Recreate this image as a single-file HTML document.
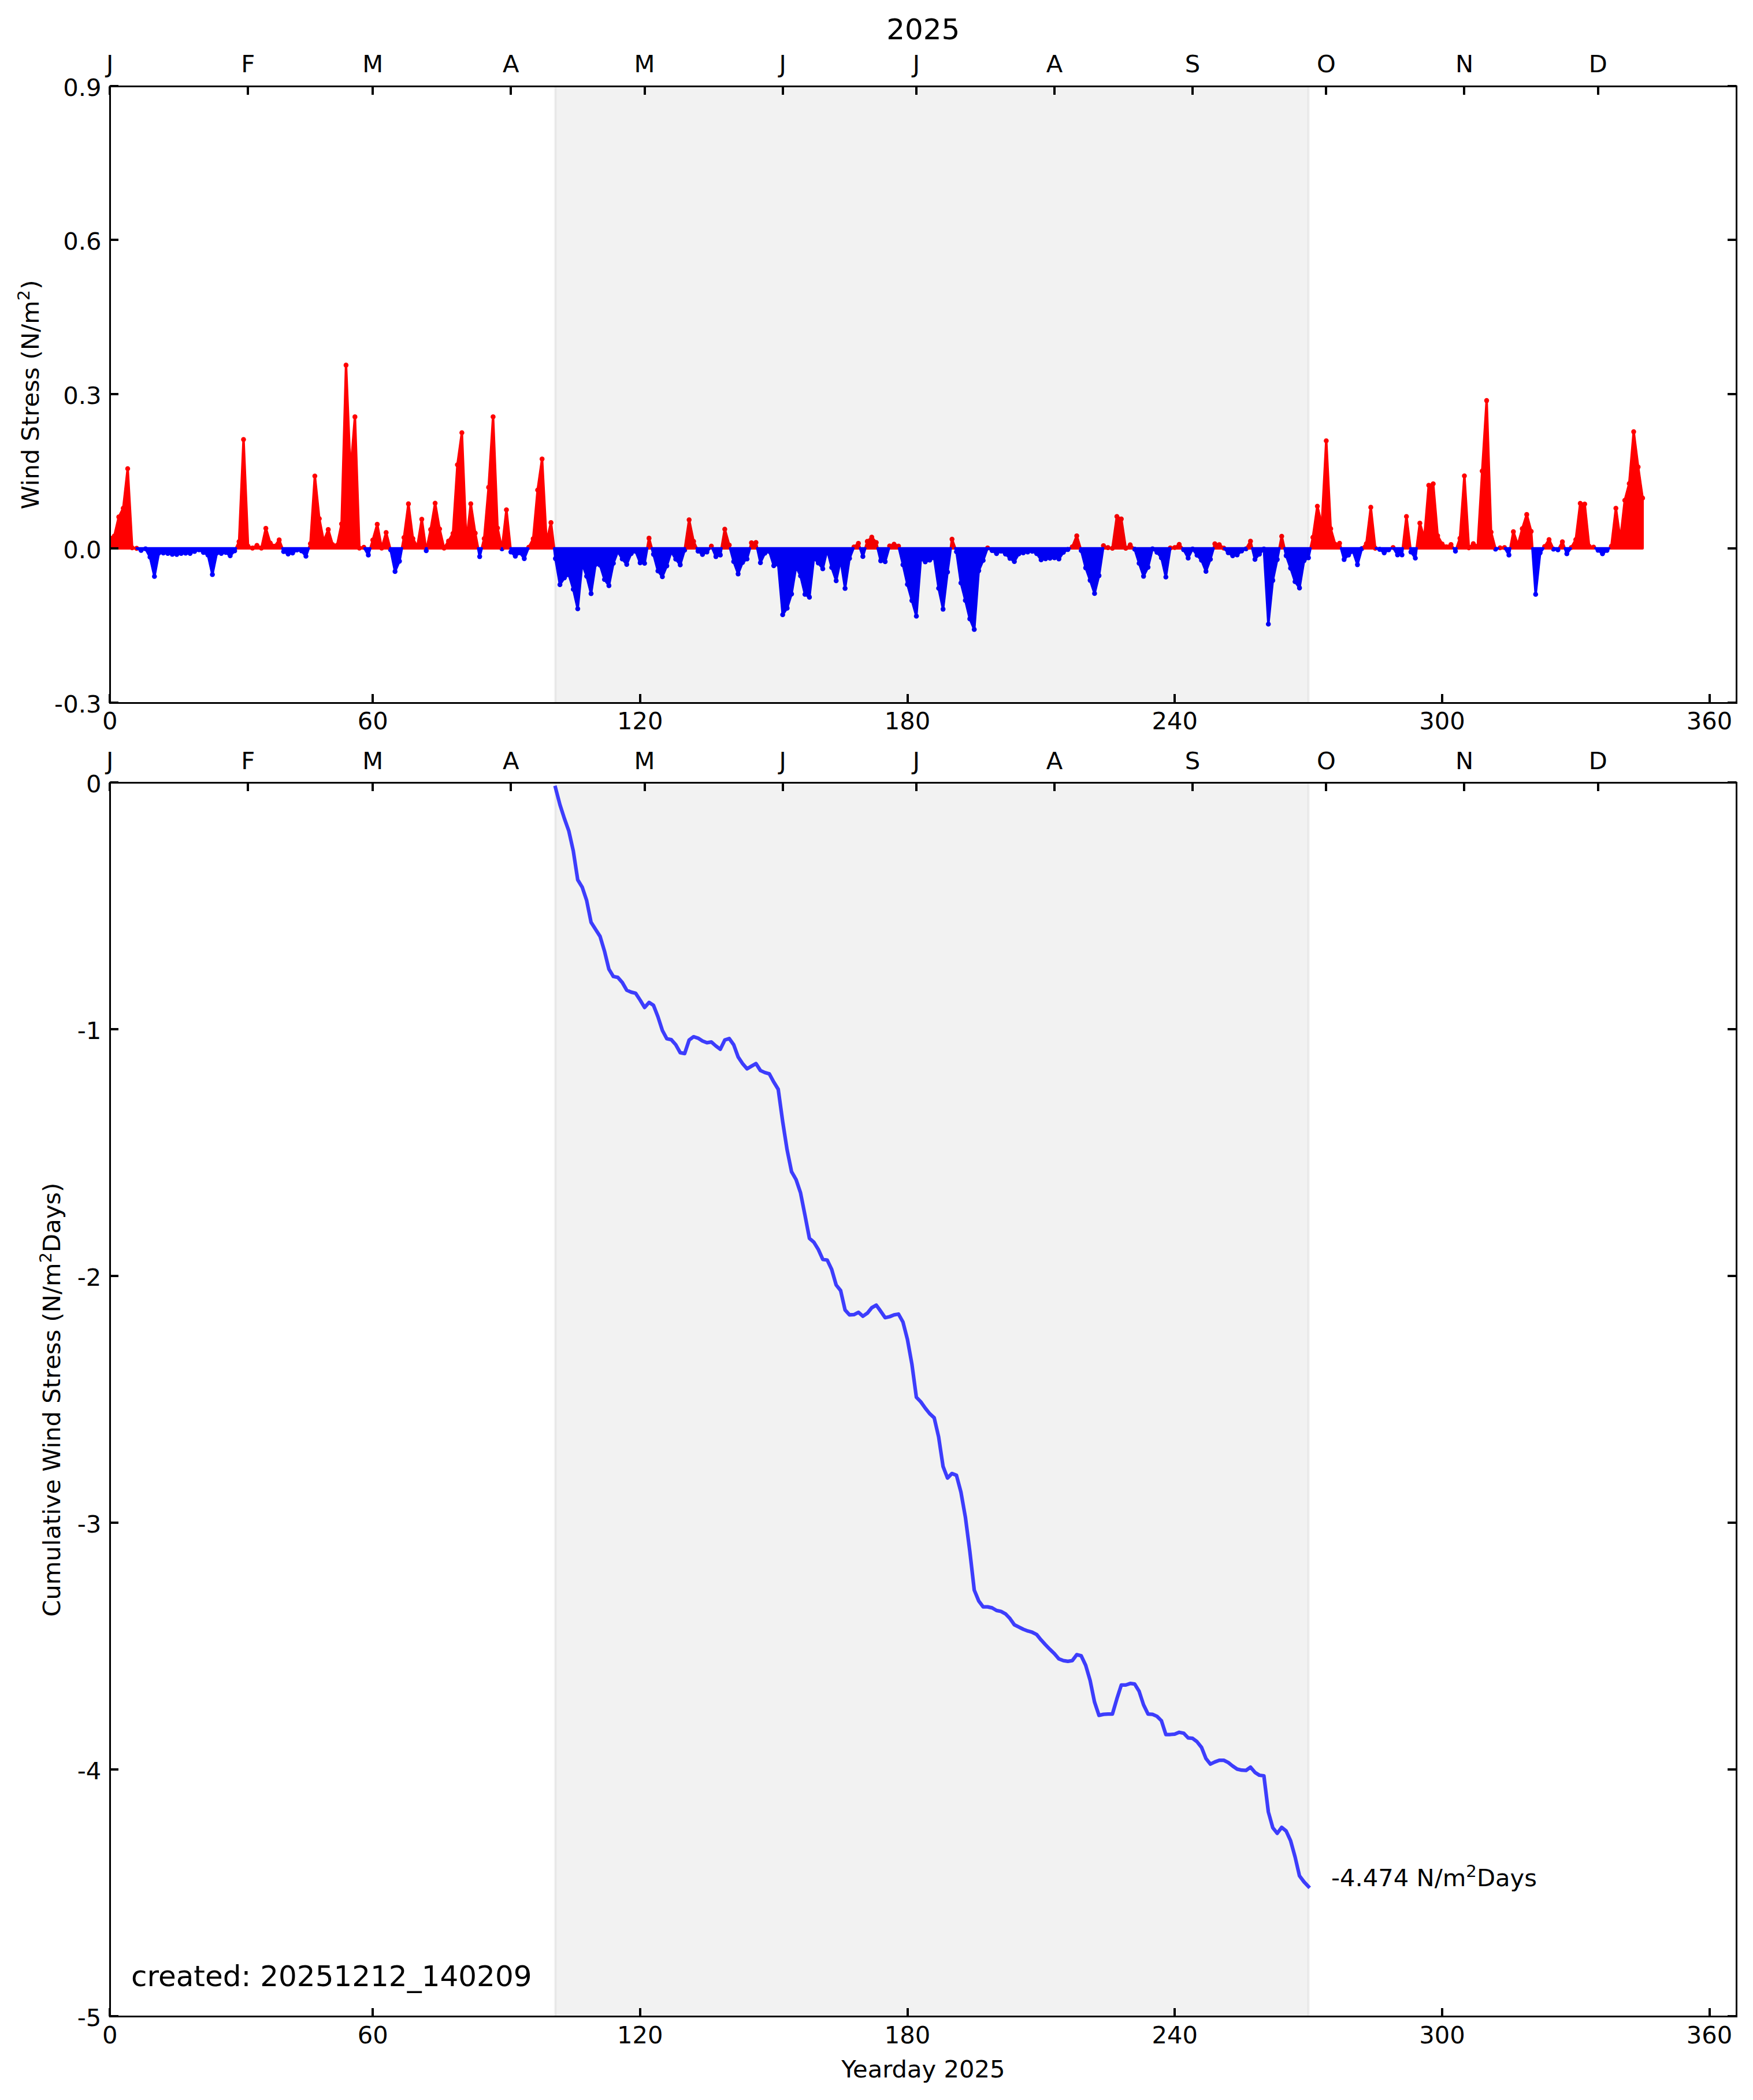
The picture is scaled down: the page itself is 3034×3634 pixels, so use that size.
<!DOCTYPE html>
<html><head><meta charset="utf-8"><title>Wind Stress 2025</title>
<style>html,body{margin:0;padding:0;background:#fff}svg{display:block}</style></head>
<body>
<svg width="3034" height="3634" viewBox="0 0 3034 3634" font-family="'DejaVu Sans', 'Liberation Sans', sans-serif" fill="#000">
<rect width="3034" height="3634" fill="#fff"/>
<clipPath id="c1"><rect x="190.2" y="149.4" width="2815.30" height="1066.90"/></clipPath>
<g clip-path="url(#c1)">
<g fill="#0000ff"><circle cx="244.2" cy="952.4" r="4.28"/><circle cx="251.9" cy="949.7" r="4.28"/><circle cx="259.6" cy="964.0" r="4.28"/><circle cx="267.3" cy="997.5" r="4.28"/><circle cx="275.0" cy="956.9" r="4.28"/><circle cx="282.7" cy="956.9" r="4.28"/><circle cx="290.4" cy="957.7" r="4.28"/><circle cx="298.2" cy="959.1" r="4.28"/><circle cx="305.9" cy="959.5" r="4.28"/><circle cx="313.6" cy="957.7" r="4.28"/><circle cx="321.3" cy="957.3" r="4.28"/><circle cx="329.0" cy="957.7" r="4.28"/><circle cx="336.7" cy="954.2" r="4.28"/><circle cx="344.4" cy="951.5" r="4.28"/><circle cx="352.1" cy="956.0" r="4.28"/><circle cx="359.9" cy="960.4" r="4.28"/><circle cx="367.6" cy="994.2" r="4.28"/><circle cx="375.3" cy="956.9" r="4.28"/><circle cx="383.0" cy="957.7" r="4.28"/><circle cx="390.7" cy="956.0" r="4.28"/><circle cx="398.4" cy="961.8" r="4.28"/><circle cx="406.1" cy="953.3" r="4.28"/><circle cx="490.9" cy="954.5" r="4.28"/><circle cx="498.7" cy="958.6" r="4.28"/><circle cx="506.4" cy="956.9" r="4.28"/><circle cx="514.1" cy="951.8" r="4.28"/><circle cx="521.8" cy="953.3" r="4.28"/><circle cx="529.5" cy="962.5" r="4.28"/><circle cx="637.5" cy="960.4" r="4.28"/><circle cx="676.0" cy="951.5" r="4.28"/><circle cx="683.7" cy="988.9" r="4.28"/><circle cx="691.4" cy="971.1" r="4.28"/><circle cx="737.7" cy="952.9" r="4.28"/><circle cx="830.2" cy="963.1" r="4.28"/><circle cx="868.8" cy="949.7" r="4.28"/><circle cx="884.2" cy="955.1" r="4.28"/><circle cx="891.9" cy="962.5" r="4.28"/><circle cx="899.6" cy="956.4" r="4.28"/><circle cx="907.4" cy="966.6" r="4.28"/><circle cx="961.3" cy="966.6" r="4.28"/><circle cx="969.1" cy="1011.7" r="4.28"/><circle cx="976.8" cy="1000.0" r="4.28"/><circle cx="984.5" cy="994.4" r="4.28"/><circle cx="992.2" cy="1019.8" r="4.28"/><circle cx="999.9" cy="1053.5" r="4.28"/><circle cx="1007.6" cy="975.0" r="4.28"/><circle cx="1015.3" cy="997.1" r="4.28"/><circle cx="1023.0" cy="1027.3" r="4.28"/><circle cx="1030.7" cy="976.6" r="4.28"/><circle cx="1038.5" cy="977.9" r="4.28"/><circle cx="1046.2" cy="1002.7" r="4.28"/><circle cx="1053.9" cy="1013.4" r="4.28"/><circle cx="1061.6" cy="974.8" r="4.28"/><circle cx="1069.3" cy="954.4" r="4.28"/><circle cx="1077.0" cy="967.2" r="4.28"/><circle cx="1084.7" cy="976.6" r="4.28"/><circle cx="1092.4" cy="958.0" r="4.28"/><circle cx="1100.1" cy="953.9" r="4.28"/><circle cx="1107.9" cy="973.9" r="4.28"/><circle cx="1115.6" cy="974.8" r="4.28"/><circle cx="1131.0" cy="959.1" r="4.28"/><circle cx="1138.7" cy="988.0" r="4.28"/><circle cx="1146.4" cy="998.0" r="4.28"/><circle cx="1154.1" cy="979.1" r="4.28"/><circle cx="1161.8" cy="954.9" r="4.28"/><circle cx="1169.5" cy="967.5" r="4.28"/><circle cx="1177.3" cy="977.4" r="4.28"/><circle cx="1185.0" cy="952.0" r="4.28"/><circle cx="1208.1" cy="953.6" r="4.28"/><circle cx="1215.8" cy="959.4" r="4.28"/><circle cx="1223.5" cy="955.1" r="4.28"/><circle cx="1239.0" cy="963.1" r="4.28"/><circle cx="1246.7" cy="960.4" r="4.28"/><circle cx="1269.8" cy="971.8" r="4.28"/><circle cx="1277.5" cy="993.1" r="4.28"/><circle cx="1285.2" cy="973.3" r="4.28"/><circle cx="1292.9" cy="967.3" r="4.28"/><circle cx="1316.1" cy="973.7" r="4.28"/><circle cx="1323.8" cy="957.3" r="4.28"/><circle cx="1331.5" cy="954.1" r="4.28"/><circle cx="1339.2" cy="978.9" r="4.28"/><circle cx="1346.9" cy="976.6" r="4.28"/><circle cx="1354.6" cy="1063.8" r="4.28"/><circle cx="1362.3" cy="1052.4" r="4.28"/><circle cx="1370.0" cy="1027.9" r="4.28"/><circle cx="1377.8" cy="980.6" r="4.28"/><circle cx="1385.5" cy="996.5" r="4.28"/><circle cx="1393.2" cy="1028.5" r="4.28"/><circle cx="1400.9" cy="1033.4" r="4.28"/><circle cx="1408.6" cy="965.6" r="4.28"/><circle cx="1416.3" cy="974.3" r="4.28"/><circle cx="1424.0" cy="984.2" r="4.28"/><circle cx="1431.7" cy="951.4" r="4.28"/><circle cx="1439.4" cy="982.0" r="4.28"/><circle cx="1447.2" cy="1004.9" r="4.28"/><circle cx="1454.9" cy="969.0" r="4.28"/><circle cx="1462.6" cy="1018.2" r="4.28"/><circle cx="1470.3" cy="966.2" r="4.28"/><circle cx="1493.4" cy="962.9" r="4.28"/><circle cx="1524.3" cy="970.4" r="4.28"/><circle cx="1532.0" cy="971.9" r="4.28"/><circle cx="1562.8" cy="977.2" r="4.28"/><circle cx="1570.5" cy="1011.2" r="4.28"/><circle cx="1578.3" cy="1039.2" r="4.28"/><circle cx="1586.0" cy="1066.3" r="4.28"/><circle cx="1593.7" cy="967.4" r="4.28"/><circle cx="1601.4" cy="972.1" r="4.28"/><circle cx="1609.1" cy="969.3" r="4.28"/><circle cx="1616.8" cy="965.3" r="4.28"/><circle cx="1624.5" cy="1018.0" r="4.28"/><circle cx="1632.2" cy="1054.1" r="4.28"/><circle cx="1639.9" cy="989.9" r="4.28"/><circle cx="1655.4" cy="954.8" r="4.28"/><circle cx="1663.1" cy="1008.7" r="4.28"/><circle cx="1670.8" cy="1038.9" r="4.28"/><circle cx="1678.5" cy="1070.9" r="4.28"/><circle cx="1686.2" cy="1089.3" r="4.28"/><circle cx="1693.9" cy="987.6" r="4.28"/><circle cx="1701.6" cy="969.7" r="4.28"/><circle cx="1717.1" cy="952.7" r="4.28"/><circle cx="1724.8" cy="958.0" r="4.28"/><circle cx="1732.5" cy="953.6" r="4.28"/><circle cx="1740.2" cy="958.8" r="4.28"/><circle cx="1747.9" cy="966.1" r="4.28"/><circle cx="1755.6" cy="971.8" r="4.28"/><circle cx="1763.3" cy="958.5" r="4.28"/><circle cx="1771.0" cy="956.8" r="4.28"/><circle cx="1778.7" cy="955.2" r="4.28"/><circle cx="1786.5" cy="953.9" r="4.28"/><circle cx="1794.2" cy="957.9" r="4.28"/><circle cx="1801.9" cy="968.8" r="4.28"/><circle cx="1809.6" cy="966.9" r="4.28"/><circle cx="1817.3" cy="966.0" r="4.28"/><circle cx="1825.0" cy="965.2" r="4.28"/><circle cx="1832.7" cy="967.3" r="4.28"/><circle cx="1840.4" cy="955.8" r="4.28"/><circle cx="1848.2" cy="950.9" r="4.28"/><circle cx="1871.3" cy="952.7" r="4.28"/><circle cx="1879.0" cy="982.6" r="4.28"/><circle cx="1886.7" cy="1004.1" r="4.28"/><circle cx="1894.4" cy="1027.0" r="4.28"/><circle cx="1902.1" cy="996.1" r="4.28"/><circle cx="1963.8" cy="950.2" r="4.28"/><circle cx="1971.5" cy="974.7" r="4.28"/><circle cx="1979.2" cy="997.1" r="4.28"/><circle cx="1987.0" cy="981.6" r="4.28"/><circle cx="1994.7" cy="949.7" r="4.28"/><circle cx="2002.4" cy="955.7" r="4.28"/><circle cx="2010.1" cy="965.2" r="4.28"/><circle cx="2017.8" cy="998.5" r="4.28"/><circle cx="2048.6" cy="951.3" r="4.28"/><circle cx="2056.4" cy="965.7" r="4.28"/><circle cx="2064.1" cy="950.1" r="4.28"/><circle cx="2071.8" cy="960.8" r="4.28"/><circle cx="2079.5" cy="969.5" r="4.28"/><circle cx="2087.2" cy="988.8" r="4.28"/><circle cx="2094.9" cy="967.7" r="4.28"/><circle cx="2125.8" cy="956.5" r="4.28"/><circle cx="2133.5" cy="961.7" r="4.28"/><circle cx="2141.2" cy="960.1" r="4.28"/><circle cx="2148.9" cy="953.4" r="4.28"/><circle cx="2156.6" cy="949.7" r="4.28"/><circle cx="2172.0" cy="968.0" r="4.28"/><circle cx="2179.7" cy="959.0" r="4.28"/><circle cx="2187.5" cy="950.1" r="4.28"/><circle cx="2195.2" cy="1080.0" r="4.28"/><circle cx="2202.9" cy="1004.4" r="4.28"/><circle cx="2210.6" cy="968.1" r="4.28"/><circle cx="2226.0" cy="961.6" r="4.28"/><circle cx="2233.7" cy="983.3" r="4.28"/><circle cx="2241.4" cy="1006.5" r="4.28"/><circle cx="2249.1" cy="1017.4" r="4.28"/><circle cx="2256.9" cy="970.3" r="4.28"/><circle cx="2264.6" cy="965.2" r="4.28"/><circle cx="2326.3" cy="968.1" r="4.28"/><circle cx="2334.0" cy="960.4" r="4.28"/><circle cx="2341.7" cy="954.2" r="4.28"/><circle cx="2349.4" cy="977.1" r="4.28"/><circle cx="2357.1" cy="949.3" r="4.28"/><circle cx="2387.9" cy="950.6" r="4.28"/><circle cx="2395.7" cy="956.6" r="4.28"/><circle cx="2403.4" cy="951.5" r="4.28"/><circle cx="2418.8" cy="960.1" r="4.28"/><circle cx="2426.5" cy="960.1" r="4.28"/><circle cx="2441.9" cy="955.1" r="4.28"/><circle cx="2449.6" cy="965.7" r="4.28"/><circle cx="2519.0" cy="953.8" r="4.28"/><circle cx="2588.4" cy="950.2" r="4.28"/><circle cx="2611.6" cy="960.4" r="4.28"/><circle cx="2657.8" cy="1028.5" r="4.28"/><circle cx="2665.6" cy="956.6" r="4.28"/><circle cx="2688.7" cy="950.2" r="4.28"/><circle cx="2696.4" cy="951.5" r="4.28"/><circle cx="2711.8" cy="958.2" r="4.28"/><circle cx="2765.8" cy="952.1" r="4.28"/><circle cx="2773.5" cy="958.2" r="4.28"/><circle cx="2781.2" cy="952.4" r="4.28"/></g><g fill="#ff0000"><circle cx="190.2" cy="931.1" r="4.28"/><circle cx="197.9" cy="927.5" r="4.28"/><circle cx="205.6" cy="894.6" r="4.28"/><circle cx="213.3" cy="879.5" r="4.28"/><circle cx="221.0" cy="811.0" r="4.28"/><circle cx="228.8" cy="948.0" r="4.28"/><circle cx="236.5" cy="948.9" r="4.28"/><circle cx="413.8" cy="937.3" r="4.28"/><circle cx="421.5" cy="760.5" r="4.28"/><circle cx="429.3" cy="945.3" r="4.28"/><circle cx="437.0" cy="948.4" r="4.28"/><circle cx="444.7" cy="943.9" r="4.28"/><circle cx="452.4" cy="948.4" r="4.28"/><circle cx="460.1" cy="914.2" r="4.28"/><circle cx="467.8" cy="939.7" r="4.28"/><circle cx="475.5" cy="945.3" r="4.28"/><circle cx="483.2" cy="934.4" r="4.28"/><circle cx="537.2" cy="940.8" r="4.28"/><circle cx="544.9" cy="823.8" r="4.28"/><circle cx="552.6" cy="897.5" r="4.28"/><circle cx="560.3" cy="936.8" r="4.28"/><circle cx="568.1" cy="916.4" r="4.28"/><circle cx="575.8" cy="942.6" r="4.28"/><circle cx="583.5" cy="943.5" r="4.28"/><circle cx="591.2" cy="906.6" r="4.28"/><circle cx="598.9" cy="631.9" r="4.28"/><circle cx="606.6" cy="818.7" r="4.28"/><circle cx="614.3" cy="721.4" r="4.28"/><circle cx="622.0" cy="948.4" r="4.28"/><circle cx="629.7" cy="947.1" r="4.28"/><circle cx="645.2" cy="934.6" r="4.28"/><circle cx="652.9" cy="907.3" r="4.28"/><circle cx="660.6" cy="948.4" r="4.28"/><circle cx="668.3" cy="921.5" r="4.28"/><circle cx="699.2" cy="930.2" r="4.28"/><circle cx="706.9" cy="871.9" r="4.28"/><circle cx="714.6" cy="932.0" r="4.28"/><circle cx="722.3" cy="946.2" r="4.28"/><circle cx="730.0" cy="898.6" r="4.28"/><circle cx="745.4" cy="916.4" r="4.28"/><circle cx="753.1" cy="870.8" r="4.28"/><circle cx="760.8" cy="915.3" r="4.28"/><circle cx="768.6" cy="948.4" r="4.28"/><circle cx="776.3" cy="936.4" r="4.28"/><circle cx="784.0" cy="923.1" r="4.28"/><circle cx="791.7" cy="804.2" r="4.28"/><circle cx="799.4" cy="748.8" r="4.28"/><circle cx="807.1" cy="939.5" r="4.28"/><circle cx="814.8" cy="871.8" r="4.28"/><circle cx="822.5" cy="922.6" r="4.28"/><circle cx="838.0" cy="932.0" r="4.28"/><circle cx="845.7" cy="843.4" r="4.28"/><circle cx="853.4" cy="721.3" r="4.28"/><circle cx="861.1" cy="913.7" r="4.28"/><circle cx="876.5" cy="882.2" r="4.28"/><circle cx="915.1" cy="947.1" r="4.28"/><circle cx="922.8" cy="932.4" r="4.28"/><circle cx="930.5" cy="848.0" r="4.28"/><circle cx="938.2" cy="794.3" r="4.28"/><circle cx="945.9" cy="938.2" r="4.28"/><circle cx="953.6" cy="904.4" r="4.28"/><circle cx="1123.3" cy="931.4" r="4.28"/><circle cx="1192.7" cy="899.6" r="4.28"/><circle cx="1200.4" cy="936.9" r="4.28"/><circle cx="1231.2" cy="945.0" r="4.28"/><circle cx="1254.4" cy="915.8" r="4.28"/><circle cx="1262.1" cy="943.2" r="4.28"/><circle cx="1300.6" cy="939.2" r="4.28"/><circle cx="1308.4" cy="938.8" r="4.28"/><circle cx="1478.0" cy="946.5" r="4.28"/><circle cx="1485.7" cy="940.3" r="4.28"/><circle cx="1501.1" cy="936.9" r="4.28"/><circle cx="1508.8" cy="929.6" r="4.28"/><circle cx="1516.6" cy="938.8" r="4.28"/><circle cx="1539.7" cy="944.9" r="4.28"/><circle cx="1547.4" cy="941.8" r="4.28"/><circle cx="1555.1" cy="945.0" r="4.28"/><circle cx="1647.7" cy="933.1" r="4.28"/><circle cx="1709.3" cy="948.2" r="4.28"/><circle cx="1855.9" cy="946.2" r="4.28"/><circle cx="1863.6" cy="927.2" r="4.28"/><circle cx="1909.8" cy="944.3" r="4.28"/><circle cx="1917.6" cy="947.6" r="4.28"/><circle cx="1925.3" cy="948.7" r="4.28"/><circle cx="1933.0" cy="893.8" r="4.28"/><circle cx="1940.7" cy="898.1" r="4.28"/><circle cx="1948.4" cy="948.7" r="4.28"/><circle cx="1956.1" cy="942.8" r="4.28"/><circle cx="2025.5" cy="948.2" r="4.28"/><circle cx="2033.2" cy="947.5" r="4.28"/><circle cx="2040.9" cy="942.1" r="4.28"/><circle cx="2102.6" cy="941.0" r="4.28"/><circle cx="2110.3" cy="942.6" r="4.28"/><circle cx="2118.1" cy="948.5" r="4.28"/><circle cx="2164.3" cy="936.5" r="4.28"/><circle cx="2218.3" cy="928.0" r="4.28"/><circle cx="2272.3" cy="929.9" r="4.28"/><circle cx="2280.0" cy="876.0" r="4.28"/><circle cx="2287.7" cy="908.8" r="4.28"/><circle cx="2295.4" cy="762.7" r="4.28"/><circle cx="2303.1" cy="914.9" r="4.28"/><circle cx="2310.8" cy="941.7" r="4.28"/><circle cx="2318.5" cy="940.1" r="4.28"/><circle cx="2364.8" cy="940.7" r="4.28"/><circle cx="2372.5" cy="877.9" r="4.28"/><circle cx="2380.2" cy="948.6" r="4.28"/><circle cx="2411.1" cy="947.5" r="4.28"/><circle cx="2434.2" cy="893.8" r="4.28"/><circle cx="2457.4" cy="905.3" r="4.28"/><circle cx="2465.1" cy="931.1" r="4.28"/><circle cx="2472.8" cy="839.8" r="4.28"/><circle cx="2480.5" cy="837.3" r="4.28"/><circle cx="2488.2" cy="927.0" r="4.28"/><circle cx="2495.9" cy="941.3" r="4.28"/><circle cx="2503.6" cy="946.2" r="4.28"/><circle cx="2511.3" cy="942.4" r="4.28"/><circle cx="2526.8" cy="931.5" r="4.28"/><circle cx="2534.5" cy="823.5" r="4.28"/><circle cx="2542.2" cy="948.0" r="4.28"/><circle cx="2549.9" cy="940.8" r="4.28"/><circle cx="2557.6" cy="945.3" r="4.28"/><circle cx="2565.3" cy="815.1" r="4.28"/><circle cx="2573.0" cy="693.1" r="4.28"/><circle cx="2580.7" cy="920.8" r="4.28"/><circle cx="2596.2" cy="948.0" r="4.28"/><circle cx="2603.9" cy="947.5" r="4.28"/><circle cx="2619.3" cy="920.1" r="4.28"/><circle cx="2627.0" cy="943.0" r="4.28"/><circle cx="2634.7" cy="914.9" r="4.28"/><circle cx="2642.4" cy="890.4" r="4.28"/><circle cx="2650.1" cy="919.6" r="4.28"/><circle cx="2673.3" cy="945.9" r="4.28"/><circle cx="2681.0" cy="933.7" r="4.28"/><circle cx="2704.1" cy="937.6" r="4.28"/><circle cx="2719.5" cy="947.5" r="4.28"/><circle cx="2727.3" cy="933.7" r="4.28"/><circle cx="2735.0" cy="871.0" r="4.28"/><circle cx="2742.7" cy="872.2" r="4.28"/><circle cx="2750.4" cy="945.3" r="4.28"/><circle cx="2758.1" cy="946.8" r="4.28"/><circle cx="2788.9" cy="945.3" r="4.28"/><circle cx="2796.7" cy="879.5" r="4.28"/><circle cx="2804.4" cy="934.0" r="4.28"/><circle cx="2812.1" cy="865.8" r="4.28"/><circle cx="2819.8" cy="836.8" r="4.28"/><circle cx="2827.5" cy="747.1" r="4.28"/><circle cx="2835.2" cy="808.1" r="4.28"/><circle cx="2842.9" cy="861.9" r="4.28"/></g>
<path d="M190.2 948.9L190.2 931.1L197.9 927.5L205.6 894.6L213.3 879.5L221.0 811.0L228.8 948.0L236.5 948.9ZM408.3 948.9L413.8 937.3L421.5 760.5L429.3 945.3L437.0 948.4L444.7 943.9L452.4 948.4L460.1 914.2L467.8 939.7L475.5 945.3L483.2 934.4L488.8 948.9ZM534.4 948.9L537.2 940.8L544.9 823.8L552.6 897.5L560.3 936.8L568.1 916.4L575.8 942.6L583.5 943.5L591.2 906.6L598.9 631.9L606.6 818.7L614.3 721.4L622.0 948.4L629.7 947.1L630.8 948.9ZM640.9 948.9L645.2 934.6L652.9 907.3L660.6 948.4L668.3 921.5L675.3 948.9ZM695.6 948.9L699.2 930.2L706.9 871.9L714.6 932.0L722.3 946.2L730.0 898.6L737.1 948.9ZM738.6 948.9L745.4 916.4L753.1 870.8L760.8 915.3L768.6 948.4L776.3 936.4L784.0 923.1L791.7 804.2L799.4 748.8L807.1 939.5L814.8 871.8L822.5 922.6L827.5 948.9ZM833.8 948.9L838.0 932.0L845.7 843.4L853.4 721.3L861.1 913.7L868.6 948.9ZM868.9 948.9L876.5 882.2L883.6 948.9ZM914.4 948.9L915.1 947.1L922.8 932.4L930.5 848.0L938.2 794.3L945.9 938.2L953.6 904.4L959.1 948.9ZM1120.2 948.9L1123.3 931.4L1128.1 948.9ZM1185.4 948.9L1192.7 899.6L1200.4 936.9L1205.9 948.9ZM1228.3 948.9L1231.2 945.0L1232.9 948.9ZM1248.7 948.9L1254.4 915.8L1262.1 943.2L1263.6 948.9ZM1298.0 948.9L1300.6 939.2L1308.4 938.8L1310.6 948.9ZM1477.1 948.9L1478.0 946.5L1485.7 940.3L1488.6 948.9ZM1497.6 948.9L1501.1 936.9L1508.8 929.6L1516.6 938.8L1519.0 948.9ZM1538.6 948.9L1539.7 944.9L1547.4 941.8L1555.1 945.0L1556.0 948.9ZM1645.5 948.9L1647.7 933.1L1653.3 948.9ZM1709.1 948.9L1709.3 948.2L1710.5 948.9ZM1851.5 948.9L1855.9 946.2L1863.6 927.2L1870.1 948.9ZM1909.2 948.9L1909.8 944.3L1917.6 947.6L1925.3 948.7L1933.0 893.8L1940.7 898.1L1948.4 948.7L1956.1 942.8L1962.4 948.9ZM2025.4 948.9L2025.5 948.2L2033.2 947.5L2040.9 942.1L2046.6 948.9ZM2100.4 948.9L2102.6 941.0L2110.3 942.6L2118.1 948.5L2118.4 948.9ZM2157.1 948.9L2164.3 936.5L2167.3 948.9ZM2214.3 948.9L2218.3 928.0L2223.1 948.9ZM2268.1 948.9L2272.3 929.9L2280.0 876.0L2287.7 908.8L2295.4 762.7L2303.1 914.9L2310.8 941.7L2318.5 940.1L2321.0 948.9ZM2357.5 948.9L2364.8 940.7L2372.5 877.9L2380.2 948.6L2381.2 948.9ZM2408.5 948.9L2411.1 947.5L2411.9 948.9ZM2427.8 948.9L2434.2 893.8L2441.1 948.9ZM2451.8 948.9L2457.4 905.3L2465.1 931.1L2472.8 839.8L2480.5 837.3L2488.2 927.0L2495.9 941.3L2503.6 946.2L2511.3 942.4L2515.7 948.9ZM2520.8 948.9L2526.8 931.5L2534.5 823.5L2542.2 948.0L2549.9 940.8L2557.6 945.3L2565.3 815.1L2573.0 693.1L2580.7 920.8L2588.1 948.9ZM2593.1 948.9L2596.2 948.0L2603.9 947.5L2604.7 948.9ZM2613.8 948.9L2619.3 920.1L2627.0 943.0L2634.7 914.9L2642.4 890.4L2650.1 919.6L2652.2 948.9ZM2671.2 948.9L2673.3 945.9L2681.0 933.7L2688.1 948.9ZM2697.9 948.9L2704.1 937.6L2708.3 948.9ZM2718.6 948.9L2719.5 947.5L2727.3 933.7L2735.0 871.0L2742.7 872.2L2750.4 945.3L2758.1 946.8L2761.1 948.9ZM2785.1 948.9L2788.9 945.3L2796.7 879.5L2804.4 934.0L2812.1 865.8L2819.8 836.8L2827.5 747.1L2835.2 808.1L2842.9 861.9L2842.9 948.9Z" fill="#ff0000" stroke="#ff0000" stroke-width="4.17" stroke-linejoin="round"/>
<path d="M236.5 948.9L244.2 952.4L251.9 949.7L259.6 964.0L267.3 997.5L275.0 956.9L282.7 956.9L290.4 957.7L298.2 959.1L305.9 959.5L313.6 957.7L321.3 957.3L329.0 957.7L336.7 954.2L344.4 951.5L352.1 956.0L359.9 960.4L367.6 994.2L375.3 956.9L383.0 957.7L390.7 956.0L398.4 961.8L406.1 953.3L408.3 948.9ZM488.8 948.9L490.9 954.5L498.7 958.6L506.4 956.9L514.1 951.8L521.8 953.3L529.5 962.5L534.4 948.9ZM630.8 948.9L637.5 960.4L640.9 948.9ZM675.3 948.9L676.0 951.5L683.7 988.9L691.4 971.1L695.6 948.9ZM737.1 948.9L737.7 952.9L738.6 948.9ZM827.5 948.9L830.2 963.1L833.8 948.9ZM868.6 948.9L868.8 949.7L868.9 948.9ZM883.6 948.9L884.2 955.1L891.9 962.5L899.6 956.4L907.4 966.6L914.4 948.9ZM959.1 948.9L961.3 966.6L969.1 1011.7L976.8 1000.0L984.5 994.4L992.2 1019.8L999.9 1053.5L1007.6 975.0L1015.3 997.1L1023.0 1027.3L1030.7 976.6L1038.5 977.9L1046.2 1002.7L1053.9 1013.4L1061.6 974.8L1069.3 954.4L1077.0 967.2L1084.7 976.6L1092.4 958.0L1100.1 953.9L1107.9 973.9L1115.6 974.8L1120.2 948.9ZM1128.1 948.9L1131.0 959.1L1138.7 988.0L1146.4 998.0L1154.1 979.1L1161.8 954.9L1169.5 967.5L1177.3 977.4L1185.0 952.0L1185.4 948.9ZM1205.9 948.9L1208.1 953.6L1215.8 959.4L1223.5 955.1L1228.3 948.9ZM1232.9 948.9L1239.0 963.1L1246.7 960.4L1248.7 948.9ZM1263.6 948.9L1269.8 971.8L1277.5 993.1L1285.2 973.3L1292.9 967.3L1298.0 948.9ZM1310.6 948.9L1316.1 973.7L1323.8 957.3L1331.5 954.1L1339.2 978.9L1346.9 976.6L1354.6 1063.8L1362.3 1052.4L1370.0 1027.9L1377.8 980.6L1385.5 996.5L1393.2 1028.5L1400.9 1033.4L1408.6 965.6L1416.3 974.3L1424.0 984.2L1431.7 951.4L1439.4 982.0L1447.2 1004.9L1454.9 969.0L1462.6 1018.2L1470.3 966.2L1477.1 948.9ZM1488.6 948.9L1493.4 962.9L1497.6 948.9ZM1519.0 948.9L1524.3 970.4L1532.0 971.9L1538.6 948.9ZM1556.0 948.9L1562.8 977.2L1570.5 1011.2L1578.3 1039.2L1586.0 1066.3L1593.7 967.4L1601.4 972.1L1609.1 969.3L1616.8 965.3L1624.5 1018.0L1632.2 1054.1L1639.9 989.9L1645.5 948.9ZM1653.3 948.9L1655.4 954.8L1663.1 1008.7L1670.8 1038.9L1678.5 1070.9L1686.2 1089.3L1693.9 987.6L1701.6 969.7L1709.1 948.9ZM1710.5 948.9L1717.1 952.7L1724.8 958.0L1732.5 953.6L1740.2 958.8L1747.9 966.1L1755.6 971.8L1763.3 958.5L1771.0 956.8L1778.7 955.2L1786.5 953.9L1794.2 957.9L1801.9 968.8L1809.6 966.9L1817.3 966.0L1825.0 965.2L1832.7 967.3L1840.4 955.8L1848.2 950.9L1851.5 948.9ZM1870.1 948.9L1871.3 952.7L1879.0 982.6L1886.7 1004.1L1894.4 1027.0L1902.1 996.1L1909.2 948.9ZM1962.4 948.9L1963.8 950.2L1971.5 974.7L1979.2 997.1L1987.0 981.6L1994.7 949.7L2002.4 955.7L2010.1 965.2L2017.8 998.5L2025.4 948.9ZM2046.6 948.9L2048.6 951.3L2056.4 965.7L2064.1 950.1L2071.8 960.8L2079.5 969.5L2087.2 988.8L2094.9 967.7L2100.4 948.9ZM2118.4 948.9L2125.8 956.5L2133.5 961.7L2141.2 960.1L2148.9 953.4L2156.6 949.7L2157.1 948.9ZM2167.3 948.9L2172.0 968.0L2179.7 959.0L2187.5 950.1L2195.2 1080.0L2202.9 1004.4L2210.6 968.1L2214.3 948.9ZM2223.1 948.9L2226.0 961.6L2233.7 983.3L2241.4 1006.5L2249.1 1017.4L2256.9 970.3L2264.6 965.2L2268.1 948.9ZM2321.0 948.9L2326.3 968.1L2334.0 960.4L2341.7 954.2L2349.4 977.1L2357.1 949.3L2357.5 948.9ZM2381.2 948.9L2387.9 950.6L2395.7 956.6L2403.4 951.5L2408.5 948.9ZM2411.9 948.9L2418.8 960.1L2426.5 960.1L2427.8 948.9ZM2441.1 948.9L2441.9 955.1L2449.6 965.7L2451.8 948.9ZM2515.7 948.9L2519.0 953.8L2520.8 948.9ZM2588.1 948.9L2588.4 950.2L2593.1 948.9ZM2604.7 948.9L2611.6 960.4L2613.8 948.9ZM2652.2 948.9L2657.8 1028.5L2665.6 956.6L2671.2 948.9ZM2688.1 948.9L2688.7 950.2L2696.4 951.5L2697.9 948.9ZM2708.3 948.9L2711.8 958.2L2718.6 948.9ZM2761.1 948.9L2765.8 952.1L2773.5 958.2L2781.2 952.4L2785.1 948.9Z" fill="#0000ff" stroke="#0000ff" stroke-width="4.17" stroke-linejoin="round"/>
<rect x="961.0" y="139.40" width="1303.80" height="1086.90" fill="#000" fill-opacity="0.05" stroke="#000" stroke-opacity="0.05" stroke-width="4.17"/>
</g>
<path d="M190 1216.5V1201M645 1216.5V1201M1108 1216.5V1201M1571 1216.5V1201M2033 1216.5V1201M2496 1216.5V1201M2959 1216.5V1201M190 149.5V164M429 149.5V164M645 149.5V164M884 149.5V164M1116 149.5V164M1355 149.5V164M1586 149.5V164M1825 149.5V164M2064 149.5V164M2295 149.5V164M2534 149.5V164M2766 149.5V164M190.5 149H205M3005.5 149H2990M190.5 415H205M3005.5 415H2990M190.5 682H205M3005.5 682H2990M190.5 949H205M3005.5 949H2990M190.5 1216H205M3005.5 1216H2990" stroke="#000" stroke-width="4" fill="none"/>
<rect x="190.5" y="149.5" width="2815.0" height="1067.0" fill="none" stroke="#000" stroke-width="3" stroke-linejoin="miter"/>
<text x="190.20" y="1262.40" font-size="41.67" text-anchor="middle">0</text>
<text x="645.17" y="1262.40" font-size="41.67" text-anchor="middle">60</text>
<text x="1107.86" y="1262.40" font-size="41.67" text-anchor="middle">120</text>
<text x="1570.54" y="1262.40" font-size="41.67" text-anchor="middle">180</text>
<text x="2033.22" y="1262.40" font-size="41.67" text-anchor="middle">240</text>
<text x="2495.91" y="1262.40" font-size="41.67" text-anchor="middle">300</text>
<text x="2958.59" y="1262.40" font-size="41.67" text-anchor="middle">360</text>
<text x="190.20" y="125.30" font-size="41.67" text-anchor="middle">J</text>
<text x="429.25" y="125.30" font-size="41.67" text-anchor="middle">F</text>
<text x="645.17" y="125.30" font-size="41.67" text-anchor="middle">M</text>
<text x="884.23" y="125.30" font-size="41.67" text-anchor="middle">A</text>
<text x="1115.57" y="125.30" font-size="41.67" text-anchor="middle">M</text>
<text x="1354.62" y="125.30" font-size="41.67" text-anchor="middle">J</text>
<text x="1585.96" y="125.30" font-size="41.67" text-anchor="middle">J</text>
<text x="1825.02" y="125.30" font-size="41.67" text-anchor="middle">A</text>
<text x="2064.07" y="125.30" font-size="41.67" text-anchor="middle">S</text>
<text x="2295.41" y="125.30" font-size="41.67" text-anchor="middle">O</text>
<text x="2534.47" y="125.30" font-size="41.67" text-anchor="middle">N</text>
<text x="2765.81" y="125.30" font-size="41.67" text-anchor="middle">D</text>
<text x="175.40" y="165.70" font-size="41.67" text-anchor="end">0.9</text>
<text x="175.40" y="431.70" font-size="41.67" text-anchor="end">0.6</text>
<text x="175.40" y="698.70" font-size="41.67" text-anchor="end">0.3</text>
<text x="175.40" y="965.70" font-size="41.67" text-anchor="end">0.0</text>
<text x="175.40" y="1232.70" font-size="41.67" text-anchor="end">-0.3</text>
<clipPath id="c2"><rect x="190.2" y="1354.3" width="2815.30" height="2134.90"/></clipPath>
<g clip-path="url(#c2)">
<rect x="961.0" y="1344.30" width="1303.80" height="2154.90" fill="#000" fill-opacity="0.05" stroke="#000" stroke-opacity="0.05" stroke-width="4.17"/>
<polyline points="961.3,1362.8 969.1,1392.5 976.8,1416.4 984.5,1438.0 992.2,1472.4 999.9,1522.5 1007.6,1535.1 1015.3,1558.0 1023.0,1596.0 1030.7,1608.1 1038.5,1620.2 1046.2,1645.8 1053.9,1677.2 1061.6,1689.8 1069.3,1691.4 1077.0,1700.1 1084.7,1713.5 1092.4,1716.9 1100.1,1718.8 1107.9,1730.6 1115.6,1743.4 1123.3,1734.7 1131.0,1739.7 1138.7,1759.4 1146.4,1783.1 1154.1,1797.5 1161.8,1799.1 1169.5,1807.8 1177.3,1821.6 1185.0,1823.1 1192.7,1799.8 1200.4,1794.1 1208.1,1796.4 1215.8,1801.3 1223.5,1804.3 1231.2,1803.2 1239.0,1810.0 1246.7,1815.7 1254.4,1799.8 1262.1,1797.1 1269.8,1807.8 1277.5,1828.9 1285.2,1840.5 1292.9,1849.6 1300.6,1845.0 1308.4,1840.5 1316.1,1852.5 1323.8,1856.0 1331.5,1858.3 1339.2,1872.4 1346.9,1885.0 1354.6,1940.8 1362.3,1989.9 1370.0,2027.6 1377.8,2041.2 1385.5,2064.1 1393.2,2102.8 1400.9,2142.8 1408.6,2149.6 1416.3,2162.1 1424.0,2179.3 1431.7,2180.5 1439.4,2196.6 1447.2,2223.6 1454.9,2233.3 1462.6,2266.9 1470.3,2275.4 1478.0,2274.9 1485.7,2270.9 1493.4,2277.7 1501.1,2272.4 1508.8,2263.0 1516.6,2258.5 1524.3,2269.1 1532.0,2280.2 1539.7,2278.5 1547.4,2275.4 1555.1,2274.0 1562.8,2287.7 1570.5,2317.6 1578.3,2360.8 1586.0,2417.9 1593.7,2425.9 1601.4,2436.8 1609.1,2446.4 1616.8,2453.3 1624.5,2486.4 1632.2,2537.7 1639.9,2557.7 1647.7,2549.8 1655.4,2553.0 1663.1,2581.9 1670.8,2625.2 1678.5,2684.3 1686.2,2751.6 1693.9,2770.3 1701.6,2780.6 1709.3,2780.6 1717.1,2782.4 1724.8,2786.9 1732.5,2788.5 1740.2,2792.7 1747.9,2800.7 1755.6,2811.6 1763.3,2815.5 1771.0,2819.4 1778.7,2822.3 1786.5,2824.6 1794.2,2828.5 1801.9,2837.9 1809.6,2846.3 1817.3,2854.3 1825.0,2861.8 1832.7,2870.7 1840.4,2873.7 1848.2,2874.8 1855.9,2873.7 1863.6,2863.4 1871.3,2865.3 1879.0,2881.6 1886.7,2907.9 1894.4,2945.6 1902.1,2968.4 1909.8,2966.6 1917.6,2966.1 1925.3,2966.1 1933.0,2939.8 1940.7,2915.9 1948.4,2915.9 1956.1,2913.2 1963.8,2914.1 1971.5,2926.6 1979.2,2950.1 1987.0,2966.1 1994.7,2966.6 2002.4,2970.0 2010.1,2977.6 2017.8,3001.5 2025.5,3001.5 2033.2,3000.8 2040.9,2997.7 2048.6,2999.2 2056.4,3007.3 2064.1,3008.2 2071.8,3014.1 2079.5,3023.7 2087.2,3043.1 2094.9,3052.7 2102.6,3049.0 2110.3,3046.1 2118.1,3046.1 2125.8,3050.0 2133.5,3056.1 2141.2,3061.4 2148.9,3063.2 2156.6,3063.6 2164.3,3058.0 2172.0,3067.1 2179.7,3072.0 2187.5,3073.0 2195.2,3135.5 2202.9,3162.9 2210.6,3172.5 2218.3,3162.2 2226.0,3168.5 2233.7,3185.3 2241.4,3213.1 2249.1,3246.2 2256.9,3256.5 2264.6,3264.6" fill="none" stroke="#0000ff" stroke-opacity="0.75" stroke-width="6.25" stroke-linejoin="round" stroke-linecap="square"/>
</g>
<path d="M190 3489.5V3475M645 3489.5V3475M1108 3489.5V3475M1571 3489.5V3475M2033 3489.5V3475M2496 3489.5V3475M2959 3489.5V3475M190 1354.5V1369M429 1354.5V1369M645 1354.5V1369M884 1354.5V1369M1116 1354.5V1369M1355 1354.5V1369M1586 1354.5V1369M1825 1354.5V1369M2064 1354.5V1369M2295 1354.5V1369M2534 1354.5V1369M2766 1354.5V1369M190.5 1354H205M3005.5 1354H2990M190.5 1781H205M3005.5 1781H2990M190.5 2208H205M3005.5 2208H2990M190.5 2635H205M3005.5 2635H2990M190.5 3062H205M3005.5 3062H2990M190.5 3489H205M3005.5 3489H2990" stroke="#000" stroke-width="4" fill="none"/>
<rect x="190.5" y="1354.5" width="2815.0" height="2135.0" fill="none" stroke="#000" stroke-width="3" stroke-linejoin="miter"/>
<text x="190.20" y="3536.00" font-size="41.67" text-anchor="middle">0</text>
<text x="645.17" y="3536.00" font-size="41.67" text-anchor="middle">60</text>
<text x="1107.86" y="3536.00" font-size="41.67" text-anchor="middle">120</text>
<text x="1570.54" y="3536.00" font-size="41.67" text-anchor="middle">180</text>
<text x="2033.22" y="3536.00" font-size="41.67" text-anchor="middle">240</text>
<text x="2495.91" y="3536.00" font-size="41.67" text-anchor="middle">300</text>
<text x="2958.59" y="3536.00" font-size="41.67" text-anchor="middle">360</text>
<text x="190.20" y="1330.90" font-size="41.67" text-anchor="middle">J</text>
<text x="429.25" y="1330.90" font-size="41.67" text-anchor="middle">F</text>
<text x="645.17" y="1330.90" font-size="41.67" text-anchor="middle">M</text>
<text x="884.23" y="1330.90" font-size="41.67" text-anchor="middle">A</text>
<text x="1115.57" y="1330.90" font-size="41.67" text-anchor="middle">M</text>
<text x="1354.62" y="1330.90" font-size="41.67" text-anchor="middle">J</text>
<text x="1585.96" y="1330.90" font-size="41.67" text-anchor="middle">J</text>
<text x="1825.02" y="1330.90" font-size="41.67" text-anchor="middle">A</text>
<text x="2064.07" y="1330.90" font-size="41.67" text-anchor="middle">S</text>
<text x="2295.41" y="1330.90" font-size="41.67" text-anchor="middle">O</text>
<text x="2534.47" y="1330.90" font-size="41.67" text-anchor="middle">N</text>
<text x="2765.81" y="1330.90" font-size="41.67" text-anchor="middle">D</text>
<text x="175.40" y="1370.70" font-size="41.67" text-anchor="end">0</text>
<text x="175.40" y="1797.70" font-size="41.67" text-anchor="end">-1</text>
<text x="175.40" y="2224.70" font-size="41.67" text-anchor="end">-2</text>
<text x="175.40" y="2651.70" font-size="41.67" text-anchor="end">-3</text>
<text x="175.40" y="3078.70" font-size="41.67" text-anchor="end">-4</text>
<text x="175.40" y="3505.70" font-size="41.67" text-anchor="end">-5</text>
<text x="1597.8" y="68" font-size="50.0" text-anchor="middle">2025</text>
<text x="1597.8" y="3595.4" font-size="41.67" text-anchor="middle">Yearday 2025</text>
<text transform="translate(66.6 682.9) rotate(-90)" font-size="41.67" text-anchor="middle">Wind Stress (N/m<tspan font-size="29.17" dy="-15.2">2</tspan><tspan dy="15.2" dx="1">)</tspan></text>
<text transform="translate(103.8 2422.2) rotate(-90)" font-size="41.67" text-anchor="middle">Cumulative Wind Stress (N/m<tspan font-size="29.17" dy="-15.2">2</tspan><tspan dy="15.2">Days)</tspan></text>
<text x="2304" y="3263.5" font-size="41.67">-4.474 N/m<tspan font-size="29.17" dy="-15.2">2</tspan><tspan dy="15.2">Days</tspan></text>
<text x="227" y="3436.7" font-size="50.0">created: 20251212_140209</text>
</svg>
</body></html>
